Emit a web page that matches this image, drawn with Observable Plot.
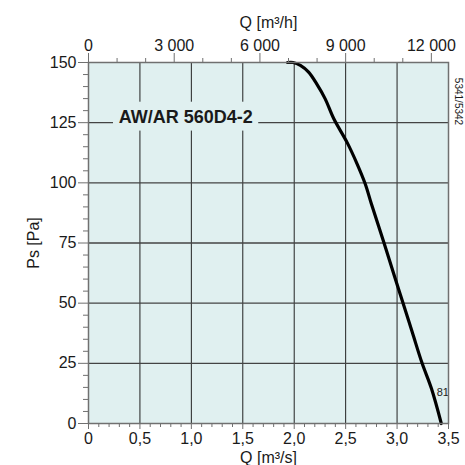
<!DOCTYPE html>
<html>
<head>
<meta charset="utf-8">
<script src="https://cdn.jsdelivr.net/npm/d3@7"></script>
<script src="https://cdn.jsdelivr.net/npm/@observablehq/plot@0.6"></script>
<style>
  html, body { margin: 0; padding: 0; background: #ffffff; }
  #chart svg { display: block; }
</style>
</head>
<body>
<div id="chart"></div>
<script>
// Fan curve (Q in m³/s, Ps in Pa)
const flowQ =     [1.935, 1.99, 2.06, 2.14, 2.22, 2.30, 2.385, 2.515, 2.61, 2.69, 2.75, 2.871, 2.978, 3.05, 3.148, 3.242, 3.335, 3.43];
const pressurePs = [150,   150,  148.8, 146, 141,  135,  126.6, 116.7, 108,  99.6, 91.3, 75.3,  60.8,  51.1, 37.9,  25.2,  14.4,  0];

// Axis ticks
const bottomMajorTicks = [0, 0.5, 1.0, 1.5, 2.0, 2.5, 3.0, 3.5];
const bottomMinorTicks = [0.1, 0.2, 0.3, 0.4, 0.6, 0.7, 0.8, 0.9, 1.1, 1.2, 1.3, 1.4, 1.6, 1.7, 1.8, 1.9, 2.1, 2.2, 2.3, 2.4, 2.6, 2.7, 2.8, 2.9, 3.1, 3.2, 3.3, 3.4];
const topMajorTicksMh = [0, 3000, 6000, 9000, 12000];
const topMinorTicksMh = [1000, 2000, 4000, 5000, 7000, 8000, 10000, 11000];
const leftMajorTicks = [0, 25, 50, 75, 100, 125, 150];
const leftMinorTicks = [5, 10, 15, 20, 30, 35, 40, 45, 55, 60, 65, 70, 80, 85, 90, 95, 105, 110, 115, 120, 130, 135, 140, 145];
const gridX = [0.5, 1.0, 1.5, 2.0, 2.5, 3.0];
const gridY = [25, 50, 75, 100, 125];

const modelLabel = "AW/AR 560D4-2";
const curveLabel = "81";
const codeLabel = "5341/5342";

const M3H_PER_M3S = 3600;
const curve = flowQ.map((q, i) => ({q, p: pressurePs[i]}));

const bg = "#e0f0f0";
const txt = "#1a1a1a";
const axisGray = "#707070";
const font = "'Liberation Sans', Arial, sans-serif";

const fmtBottom = d => d === 0 ? "0" : d.toFixed(1).replace(".", ",");
const fmtTop = d => d3.format(",")(Math.round(d * M3H_PER_M3S)).replace(/,/g, " ");

const chart = Plot.plot({
  width: 465,
  height: 465,
  marginLeft: 88,
  marginRight: 17,
  marginTop: 62,
  marginBottom: 42,
  style: {fontFamily: font, fontSize: "16px", color: txt, background: "#ffffff"},
  x: {domain: [0, 3.5], axis: null},
  y: {domain: [0, 150], axis: null},
  marks: [
    Plot.frame({fill: bg, stroke: null}),
    Plot.ruleX(gridX, {stroke: "#222", strokeWidth: 1}),
    Plot.ruleY(gridY, {stroke: "#444", strokeWidth: 1.3}),
    // model label box
    Plot.rect([modelLabel], {x1: 0.243, x2: 1.655, y1: 121.5, y2: 133.5, fill: bg}),
    Plot.text([modelLabel], {x: 0.945, y: 127.3, text: d => d, fontWeight: "bold", fontSize: 18, fill: txt}),
    // curve
    Plot.line(curve, {x: "q", y: "p", curve: "catmull-rom", stroke: "#000", strokeWidth: 3.2}),
    Plot.text([curveLabel], {x: 3.385, y: 12.8, text: d => d, textAnchor: "start", fontSize: 11, fill: "#222"}),
    // frame border
    Plot.frame({stroke: axisGray, strokeWidth: 1.5}),
    // left axis
    Plot.axisY({ticks: leftMajorTicks, tickSize: 10, tickPadding: 2, stroke: axisGray, label: null, fontSize: 16, fill: txt}),
    Plot.axisY({ticks: leftMinorTicks, tickSize: 5, text: null, stroke: axisGray, label: null}),
    // bottom axis
    Plot.axisX({ticks: bottomMajorTicks, tickSize: 6, tickPadding: 3, tickFormat: fmtBottom, stroke: axisGray, label: null, fontSize: 16, fill: txt}),
    Plot.axisX({ticks: bottomMinorTicks, tickSize: 4, text: null, stroke: axisGray, label: null}),
    // top axis (m³/h)
    Plot.axisX({anchor: "top", ticks: topMajorTicksMh.map(v => v / M3H_PER_M3S), tickSize: 10, tickPadding: 2, tickFormat: fmtTop, stroke: axisGray, label: null, fontSize: 16, fill: txt}),
    Plot.axisX({anchor: "top", ticks: topMinorTicksMh.map(v => v / M3H_PER_M3S), tickSize: 5, text: null, stroke: axisGray, label: null}),
    // axis titles
    Plot.text(["Q [m³/h]"], {frameAnchor: "top", dy: -40, lineAnchor: "middle", text: d => d, fontSize: 16, fill: txt}),
    Plot.text(["Q [m³/s]"], {frameAnchor: "bottom", dy: 34, lineAnchor: "middle", text: d => d, fontSize: 16, fill: txt}),
    Plot.text(["Ps [Pa]"], {frameAnchor: "left", dx: -55, rotate: -90, textAnchor: "middle", lineAnchor: "middle", text: d => d, fontSize: 16, fill: txt}),
    Plot.text([codeLabel], {frameAnchor: "top-right", dx: 10, dy: 39, rotate: 90, textAnchor: "middle", lineAnchor: "middle", text: d => d, fontSize: 10, fill: txt})
  ]
});
document.getElementById("chart").appendChild(chart);
</script>
</body>
</html>
